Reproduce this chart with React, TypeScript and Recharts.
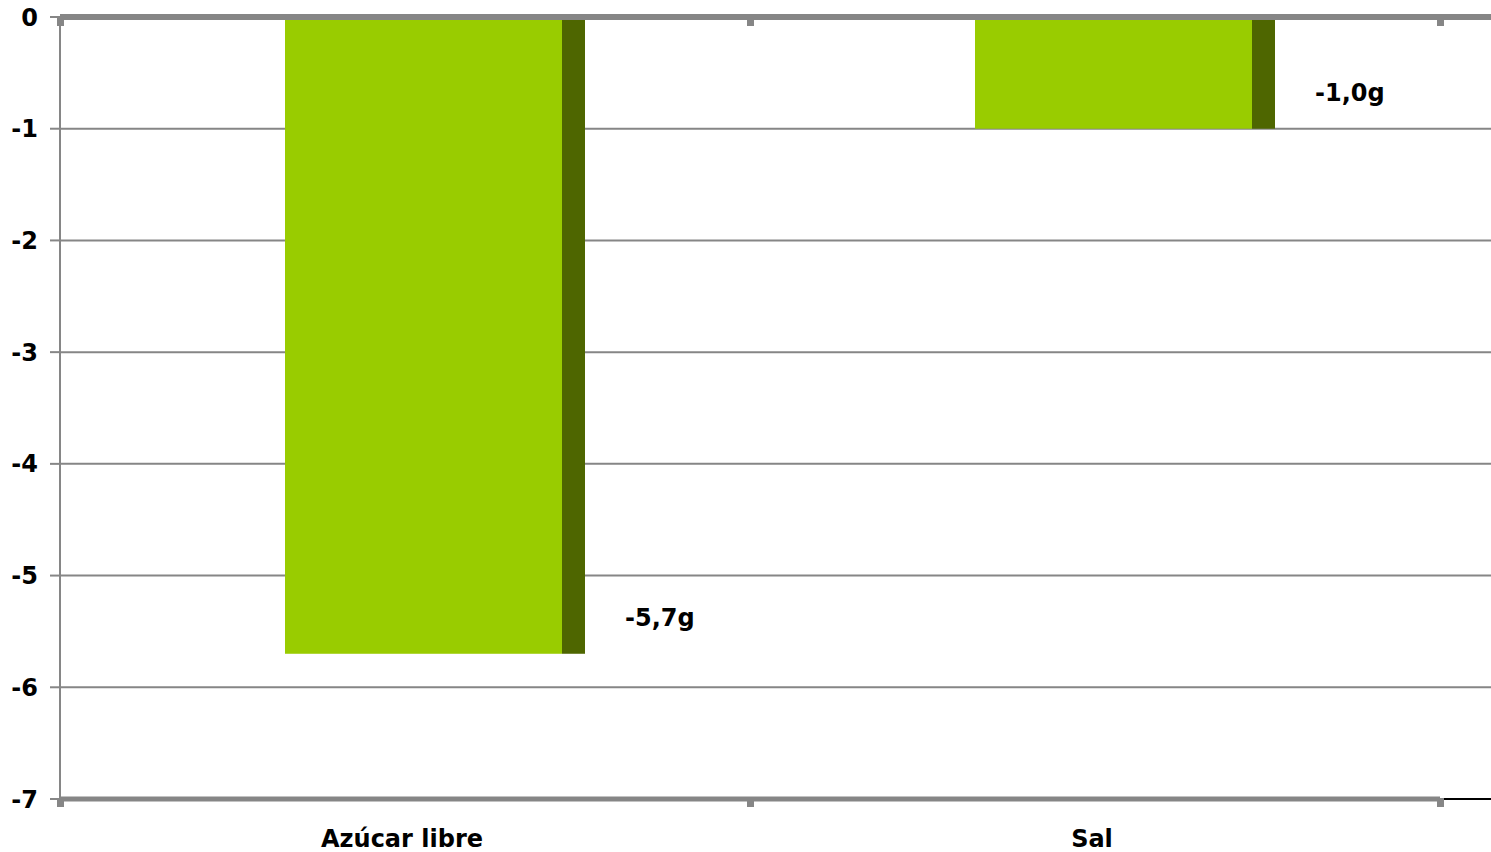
import { BarChart, Bar, XAxis, YAxis, CartesianGrid, ReferenceLine, LabelList } from "recharts";

const categories = ["Azúcar libre", "Sal"];
const values = [-5.7, -1.0];
const yTicks = [0, -1, -2, -3, -4, -5, -6, -7];

const data = categories.map((name, i) => ({ name, value: values[i] }));

const W = 1491;
const H = 852;
const RIGHT = 51;
const GRAY = "#868686";
const FONT = "'DejaVu Sans', Verdana, sans-serif";

// front face + darker side strip, like the old 3D column look
const Column = (props: any) => {
  const { x, y, width, height } = props;
  const top = Math.min(y, y + height);
  const h = Math.abs(height);
  const side = 23;
  const left = x + 30;
  return (
    <g>
      <rect x={left} y={top} width={width - side} height={h} fill="#99CC00" />
      <rect x={left + width - side} y={top} width={side} height={h} fill="#4E6600" />
    </g>
  );
};

const ValueLabel = (props: any) => {
  const { x, y, width, height, value } = props;
  const bottom = Math.max(y, y + height);
  const txt = Number(value).toFixed(1).replace(".", ",") + "g";
  return (
    <text
      x={x + 30 + width + 40}
      y={bottom - 36}
      dominantBaseline="central"
      fontFamily={FONT}
      fontWeight="bold"
      fontSize={24}
      fill="#000"
    >
      {txt}
    </text>
  );
};

const CatTick = (props: any) => {
  const { x, y, payload, index } = props;
  const half = (W - 60 - RIGHT) / categories.length / 2;
  return (
    <g>
      <rect x={x - half - 3} y={y} width={7} height={8} fill={GRAY} />
      {index === categories.length - 1 && (
        <rect x={x + half - 3} y={y} width={7} height={8} fill={GRAY} />
      )}
      <text
        x={x - 3}
        y={y + 48}
        textAnchor="middle"
        fontFamily={FONT}
        fontWeight="bold"
        fontSize={24}
        fill="#000"
      >
        {payload.value}
      </text>
    </g>
  );
};

const TopLine = (props: any) => {
  const { x1, x2, y1 } = props;
  const mid = (x1 + x2) / 2;
  return (
    <g>
      <line x1={x1} x2={x2 + RIGHT} y1={y1} y2={y1} stroke={GRAY} strokeWidth={6} />
      {[x1, mid, x2].map((tx, i) => (
        <rect key={i} x={tx - 3} y={y1} width={7} height={9} fill={GRAY} />
      ))}
    </g>
  );
};

const BottomStub = (props: any) => {
  const { x2, y1 } = props;
  return <line x1={x2 + 4} x2={x2 + RIGHT} y1={y1} y2={y1} stroke="#000" strokeWidth={2} />;
};

const GridLine = (props: any) => {
  const { x1, x2, y1, y2 } = props;
  return <line x1={x1} x2={x2 + RIGHT} y1={y1} y2={y2} stroke={GRAY} strokeWidth={2} />;
};

export default function App() {
  return (
    <div style={{ position: "absolute", left: 0, top: 0, width: W, height: H, background: "#fff" }}>
      <BarChart
        width={W}
        height={H}
        data={data}
        margin={{ top: 17, right: RIGHT, bottom: 0, left: 0 }}
      >
        <CartesianGrid vertical={false} horizontal={GridLine} />
        <XAxis
          dataKey="name"
          height={53}
          tickLine={false}
          tickSize={0}
          tickMargin={0}
          axisLine={{ stroke: GRAY, strokeWidth: 5 }}
          tick={CatTick}
          interval={0}
        />
        <YAxis
          width={60}
          domain={[-7, 0]}
          ticks={yTicks}
          allowDataOverflow
          tickSize={10}
          tickMargin={12}
          axisLine={{ stroke: GRAY, strokeWidth: 2 }}
          tickLine={{ stroke: GRAY, strokeWidth: 2 }}
          tick={{ fontFamily: FONT, fontWeight: "bold", fontSize: 24, fill: "#000" }}
        />
        <Bar dataKey="value" barSize={300} shape={Column} isAnimationActive={false}>
          <LabelList dataKey="value" content={ValueLabel} />
        </Bar>
        <ReferenceLine y={0} shape={TopLine} />
        <ReferenceLine y={-7} shape={BottomStub} />
      </BarChart>
    </div>
  );
}
